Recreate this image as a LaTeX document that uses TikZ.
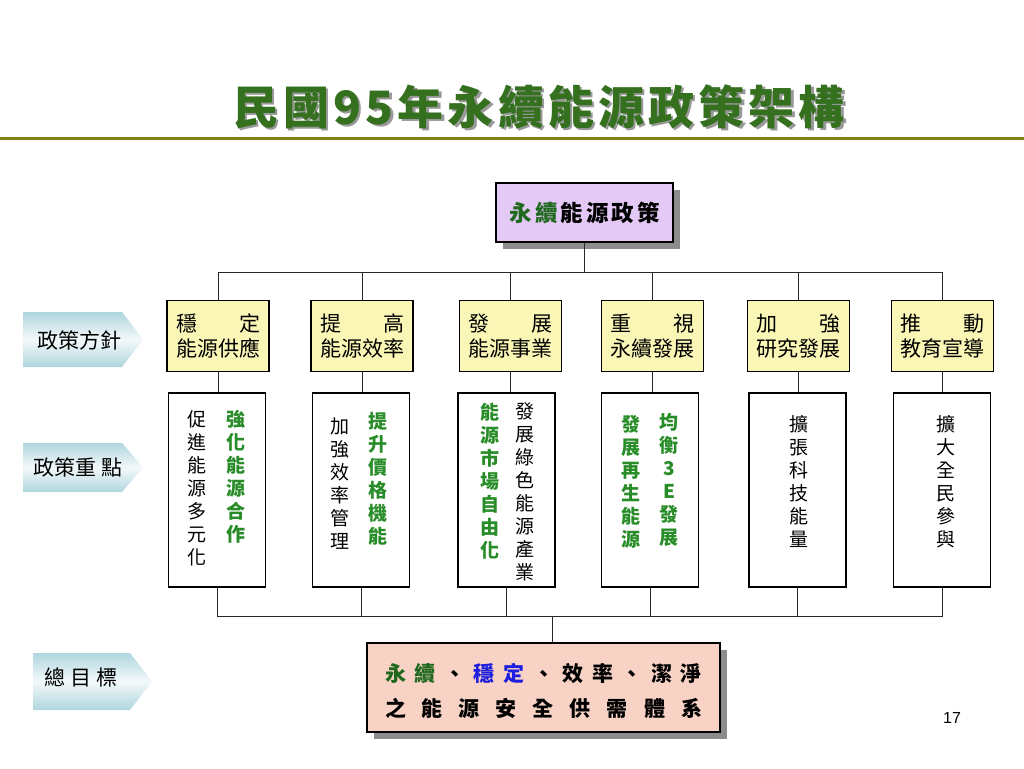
\documentclass[tikz,border=0pt]{standalone}
\usepackage{fontspec}
\setmainfont{Noto Sans CJK TC}
\newfontfamily\arialfont{Liberation Sans}
\usetikzlibrary{shadows}
\definecolor{titlegreen}{RGB}{52,112,30}
\definecolor{tgreen}{RGB}{40,140,40}
\definecolor{dgreen}{RGB}{30,105,30}
\definecolor{olivebar}{RGB}{128,128,24}
\definecolor{pyellow}{RGB}{250,246,182}
\definecolor{lav}{RGB}{228,200,245}
\definecolor{salmon}{RGB}{248,210,196}
\definecolor{arrowblue}{RGB}{176,214,222}
\definecolor{linegray}{RGB}{40,40,40}
\definecolor{myblue}{RGB}{30,30,225}
\newcommand{\gapA}{\hspace{8.6pt}}
\newcommand{\gapB}{\hspace{16pt}}
\newcommand{\titletext}{民國95年永續能源政策架構}
\begin{document}
\begin{tikzpicture}[x=1pt,y=-1pt,
  conn/.style={draw=linegray,line width=1pt},
  ybox/.style={draw=black,line width=1.2pt,fill=pyellow,minimum width=102pt,minimum height=71pt,inner sep=0pt,align=center,font=\fontsize{21}{25}\selectfont},
  wbox/.style={draw=black,line width=1.2pt,fill=white,minimum width=97pt,minimum height=194pt,inner sep=0pt},
  vt/.style={anchor=north,inner sep=0pt,align=center,font=\fontsize{19}{23}\selectfont},
  vtg/.style={vt,text=tgreen,font=\fontsize{19}{23}\selectfont\bfseries},
  shbox/.style={draw=black,line width=1.2pt,inner sep=0pt,general shadow={fill=black!45,shadow xshift=7pt,shadow yshift=-7pt}},
  arrlab/.style={inner sep=0pt,font=\fontsize{21}{21}\selectfont}
]
\useasboundingbox (0,0) rectangle (1024,768);
\fill[white] (0,0) rectangle (1024,768);

% title (with its shadow in the same node)
\node[inner sep=0pt,font=\fontsize{46}{46}\selectfont\bfseries\addfontfeature{LetterSpace=9}] (title) at (539,108)
  {\makebox[0pt][l]{\hspace{2.5pt}\raisebox{-2.5pt}{\textcolor{black!40}{\titletext}}}\textcolor{titlegreen}{\titletext}};
\draw[olivebar,line width=3pt] (0,138.5) -- (1024,138.5);

% side arrows
\shade[top color=arrowblue,bottom color=arrowblue,middle color=white!85!arrowblue] (23,312) -- (122,312) -- (143,339.5) -- (122,367) -- (23,367) -- cycle;
\shade[top color=arrowblue,bottom color=arrowblue,middle color=white!85!arrowblue] (23,443) -- (122,443) -- (143,467.5) -- (122,492) -- (23,492) -- cycle;
\shade[top color=arrowblue,bottom color=arrowblue,middle color=white!85!arrowblue] (33,653) -- (130,653) -- (152,681.5) -- (130,710) -- (33,710) -- cycle;
\node[arrlab] (lab1) at (79,340) {政策方針};
\node[arrlab] (lab2) at (78,467) {政策重 點};
\node[arrlab] (lab3) at (81,677) {總 目 標};

% top box
\node[shbox,fill=lav,minimum width=177pt,minimum height=59pt,font=\fontsize{22.5}{22.5}\selectfont\bfseries] (top) at (584.5,212.5)
  {\textcolor{dgreen}{永\hspace{3pt}續}\hspace{3pt}能\hspace{3pt}源\hspace{3pt}政\hspace{3pt}策};

% policy boxes
\node[ybox] (y1) at (218,336) {穩　　定\\能源供應};
\node[ybox] (y2) at (362,336) {提　　高\\能源效率};
\node[ybox] (y3) at (510.5,336) {發　　展\\能源事業};
\node[ybox] (y4) at (652.5,336) {重　　視\\永續發展};
\node[ybox] (y5) at (798.5,336) {加　　強\\研究發展};
\node[ybox] (y6) at (942.5,336) {推　　動\\教育宣導};

% focus boxes
\node[wbox] (w1) at (217,490) {};
\node[wbox] (w2) at (361,490) {};
\node[wbox] (w3) at (506.5,490) {};
\node[wbox] (w4) at (650,490) {};
\node[wbox] (w5) at (797.5,490) {};
\node[wbox] (w6) at (942,490) {};

\node[vt]  (c1a) at (197,410.5) {促\\進\\能\\源\\多\\元\\化};
\node[vtg] (c1b) at (236,410.5) {強\\化\\能\\源\\合\\作};
\node[vt]  (c2a) at (340,417.5) {加\\強\\效\\率\\管\\理};
\node[vtg] (c2b) at (378,412.5) {提\\升\\價\\格\\機\\能};
\node[vtg] (c3a) at (490,403.5) {能\\源\\市\\場\\自\\由\\化};
\node[vt]  (c3b) at (525,402.5) {發\\展\\綠\\色\\能\\源\\產\\業};
\node[vtg] (c4a) at (631,415.5) {發\\展\\再\\生\\能\\源};
\node[vtg] (c4b) at (669,413.5) {均\\衡\\3\\E\\發\\展};
\node[vt]  (c5)  at (799,415.5) {擴\\張\\科\\技\\能\\量};
\node[vt]  (c6)  at (946,415.5) {擴\\大\\全\\民\\參\\與};

% goal box
\node[shbox,fill=salmon,minimum width=353pt,minimum height=89pt] (bot) at (543.5,687.5) {};
\node[inner sep=0pt,font=\fontsize{21}{21}\selectfont\bfseries] (bl1) at (543.5,673)
  {\textcolor{dgreen}{永\gapA 續}\gapA 、\gapA\textcolor{myblue}{穩\gapA 定}\gapA 、\gapA 效\gapA 率\gapA 、\gapA 潔\gapA 淨};
\node[inner sep=0pt,font=\fontsize{21}{21}\selectfont\bfseries] (bl2) at (543.5,708)
  {之\gapB 能\gapB 源\gapB 安\gapB 全\gapB 供\gapB 需\gapB 體\gapB 系};

% connectors
\coordinate (jtop) at (584.5,272);
\coordinate (jbot) at (552,616);
\draw[conn] (top.south) -- (jtop);
\foreach \i in {1,...,6}{
  \draw[conn] (jtop) -| (y\i.north);
  \draw[conn] (y\i.south) -- (y\i.south |- w\i.north);
  \draw[conn] (w\i.south) |- (jbot);
}
\draw[conn] (jbot) -- (jbot |- bot.north);

% page number
\node[inner sep=0pt,font=\arialfont\fontsize{16}{16}\selectfont] (pg) at (952,718) {17};
\end{tikzpicture}
\end{document}
